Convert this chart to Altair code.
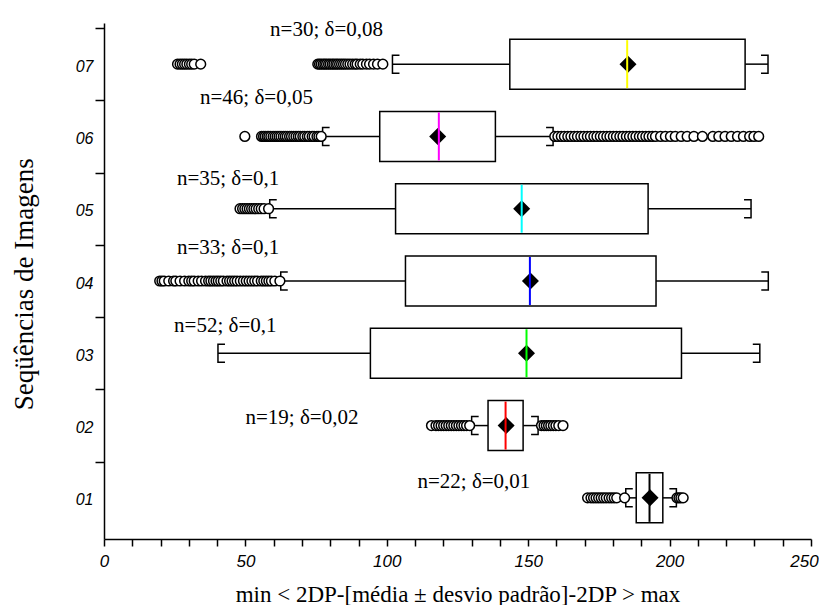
import altair as alt
import pandas as pd

# ---- data ----
seq = [1, 2, 3, 4, 5, 6, 7]
low_whisker = [184.5, 130.0, 40.3, 62.5, 58.6, 77.3, 102.0]
q1 = [188.2, 135.8, 94.2, 106.6, 103.1, 97.5, 143.5]
median = [192.9, 142.0, 149.4, 150.6, 147.7, 118.4, 185.0]
mean = [193.1, 142.2, 149.4, 150.8, 147.7, 118.0, 185.3]
q3 = [197.6, 148.2, 204.2, 195.2, 192.4, 138.4, 226.7]
high_whisker = [202.4, 153.5, 231.9, 234.9, 228.8, 158.8, 234.8]
median_colors = ["#000000", "#ff0000", "#00ff00", "#0000ff", "#00ffff", "#ff00ff", "#ffff00"]

out_01 = [171.0, 172.2, 173.1, 174.0, 174.9, 175.8, 176.7, 177.6, 178.6, 179.5, 180.4, 181.3, 184.1,
          202.6, 203.3, 204.0, 204.8]
out_02 = [115.8, 117.4, 118.3, 119.2, 120.1, 121.0, 121.9, 122.8, 123.7, 124.6, 125.5, 126.4, 127.3, 128.2, 129.3,
          154.7, 155.6, 156.4, 157.2, 158.0, 158.9, 159.8, 160.8, 162.3]
out_03 = []
out_04 = [19.7, 20.5, 21.3, 22.9, 24.6, 25.4, 26.9, 28.5, 30.0, 31.0, 31.9, 33.3, 34.5, 35.9, 37.0, 37.8,
          38.7, 39.6, 40.4, 41.3, 42.2, 43.5, 44.4, 45.3, 46.2, 47.1, 48.2, 49.3, 50.3, 51.3, 52.3, 53.3,
          54.3, 55.6, 56.5, 57.4, 58.3, 59.2, 60.4, 62.2]
out_05 = [48.1, 49.0, 49.8, 50.6, 51.4, 52.2, 53.0, 53.8, 54.7, 55.6, 56.6, 58.2]
out_06 = [49.8, 55.7, 56.4, 57.0, 57.7, 58.3, 59.0, 59.8, 60.5, 61.2, 61.9, 62.6, 63.4, 64.1, 64.8, 65.6,
          66.3, 67.1, 67.9, 68.7, 69.4, 70.3, 71.0, 71.9, 72.6, 73.6, 74.3, 75.3, 76.0, 76.8,
          159.4, 160.5, 161.7, 162.8, 164.0, 165.1, 166.3, 167.4, 168.6, 169.7, 170.9, 172.0, 173.2,
          174.3, 175.5, 176.6, 177.8, 178.9, 180.1, 181.2, 182.4, 183.5, 184.7, 185.8, 187.0, 188.1,
          189.3, 190.4, 191.6, 192.7, 193.9, 195.0, 196.8, 198.5, 200.3, 202.0, 204.1, 206.2, 208.6,
          211.6, 215.3, 217.4, 219.6, 221.8, 224.0, 226.1, 228.3, 229.8, 231.5]
out_07 = [26.0, 26.9, 27.7, 28.5, 29.3, 30.2, 31.0, 31.9, 34.2,
          75.6, 76.2, 76.8, 77.5, 78.1, 78.7, 79.4, 80.0, 80.7, 81.3, 82.0, 82.6, 83.3, 84.0, 84.7,
          85.4, 86.2, 87.0, 87.9, 88.8, 89.5, 90.6, 91.5, 92.8, 93.9, 95.3, 96.7, 98.6]

ann_text = ["n=22; δ=0,01", "n=19; δ=0,02", "n=52; δ=0,1", "n=33; δ=0,1",
            "n=35; δ=0,1", "n=46; δ=0,05", "n=30; δ=0,08"]
ann_x = [130.8, 70.0, 42.9, 43.9, 43.9, 53.9, 78.7]
ann_y = [1.134, 2.024, 3.30, 4.378, 5.328, 6.445, 7.386]

x_title = "min < 2DP-[média ± desvio padrão]-2DP > max"
y_title = "Seqüências de Imagens"

# ---- tables ----
box_df = pd.DataFrame({"seq": seq, "lw": low_whisker, "q1": q1, "med": median,
                       "mean": mean, "q3": q3, "hw": high_whisker, "mcol": median_colors})
out_rows = []
for s, vals in zip(seq, [out_01, out_02, out_03, out_04, out_05, out_06, out_07]):
    for v in sorted(vals):
        out_rows.append({"seq": s, "value": v})
out_df = pd.DataFrame(out_rows)
ann_df = pd.DataFrame({"label": ann_text, "ax": ann_x, "ay": ann_y})

# ---- scales / axes ----
xscale = alt.Scale(domain=[0, 250], nice=False, zero=False)
yscale = alt.Scale(domain=[0.5, 7.5], nice=False, zero=False)

x_axis = alt.Axis(
    values=list(range(0, 251, 10)), format="d",
    labelExpr="datum.value % 50 == 0 ? datum.label : ''",
    tickSize=7, tickWidth=1.5, tickColor="black",
    domainColor="black", domainWidth=1.5, grid=False,
    labelFont="Liberation Sans", labelFontStyle="italic", labelFontSize=17,
    labelColor="black", labelBaseline="alphabetic", labelPadding=20.7,
    labelOffset={"condition": {"test": "datum.value == 250", "value": -7}, "value": 0},
    labelOverlap=False, labelFlush=False, labelBound=False,
    title=x_title, titleFont="Liberation Serif", titleFontSize=23,
    titleFontWeight="normal", titleColor="black", titleBaseline="alphabetic",
    titleX=353.5, titleY=62, titleAlign="center",
)
y_axis = alt.Axis(
    values=[1, 1.5, 2, 2.5, 3, 3.5, 4, 4.5, 5, 5.5, 6, 6.5, 7, 7.5],
    labelExpr="datum.value % 1 == 0 ? '0' + datum.value : ''",
    tickOpacity={"condition": {"test": "datum.value % 1 == 0", "value": 0}, "value": 1},
    tickSize=9, tickWidth=1.5, tickColor="black",
    domainColor="black", domainWidth=1.5, grid=False,
    labelFont="Liberation Sans", labelFontStyle="italic", labelFontSize=16,
    labelColor="black", labelBaseline="middle", labelPadding=2, labelOffset=2,
    labelOverlap=False, labelFlush=False,
    title=y_title, titleFont="Liberation Serif", titleFontSize=27,
    titleFontWeight="normal", titleColor="black", titleBaseline="alphabetic",
    titleAngle=270, titleX=-72, titleY=260.7, titleAlign="center",
)

def X(field):
    return alt.X(field, scale=xscale, axis=x_axis)

Y = alt.Y("seq:Q", scale=yscale, axis=y_axis)

whisk_lo = alt.Chart(box_df).mark_rule(color="black", strokeWidth=1.5).encode(
    x=X("lw:Q"), x2="q1:Q", y=Y)
whisk_hi = alt.Chart(box_df).mark_rule(color="black", strokeWidth=1.5).encode(
    x=X("q3:Q"), x2="hw:Q", y=Y)

cap_lo = alt.Chart(box_df).mark_point(
    shape="M 0.78 -1 L 0 -1 L 0 1 L 0.78 1", size=324, filled=False,
    color="black", strokeWidth=1.5, opacity=1).encode(x=X("lw:Q"), y=Y)
cap_hi = alt.Chart(box_df).mark_point(
    shape="M -0.78 -1 L 0 -1 L 0 1 L -0.78 1", size=324, filled=False,
    color="black", strokeWidth=1.5, opacity=1).encode(x=X("hw:Q"), y=Y)

boxes = alt.Chart(box_df).mark_bar(
    size=50, orient="horizontal", fill="white", stroke="black", strokeWidth=1.5).encode(
    x=X("q1:Q"), x2="q3:Q", y=Y)

means = alt.Chart(box_df).mark_point(
    shape="diamond", filled=True, fill="black", size=289, opacity=1, strokeWidth=0).encode(
    x=X("mean:Q"), y=Y)

medians = alt.Chart(box_df).mark_tick(orient="vertical", size=48, thickness=2, opacity=1).encode(
    x=X("med:Q"), y=Y, color=alt.Color("mcol:N", scale=None, legend=None))

outliers = alt.Chart(out_df).mark_point(
    shape="circle", filled=True, fill="white", stroke="black", strokeWidth=1.5,
    size=95, opacity=1, fillOpacity=1).encode(x=X("value:Q"), y=Y)

labels = alt.Chart(ann_df).mark_text(
    font="Liberation Serif", fontSize=21, align="center", baseline="alphabetic",
    color="black").encode(
    x=X("ax:Q"), y=alt.Y("ay:Q", scale=yscale, axis=y_axis), text="label:N")

chart = alt.layer(
    whisk_lo, whisk_hi, cap_lo, cap_hi, boxes, means, medians, outliers, labels
).properties(
    width=707, height=516,
    autosize=alt.AutoSizeParams(type="none"),
    padding={"left": 96, "top": 15, "right": 8, "bottom": 66},
    background="white",
).configure_view(stroke=None)

chart.save("out.html", embed_options={"renderer": "svg", "actions": False})
